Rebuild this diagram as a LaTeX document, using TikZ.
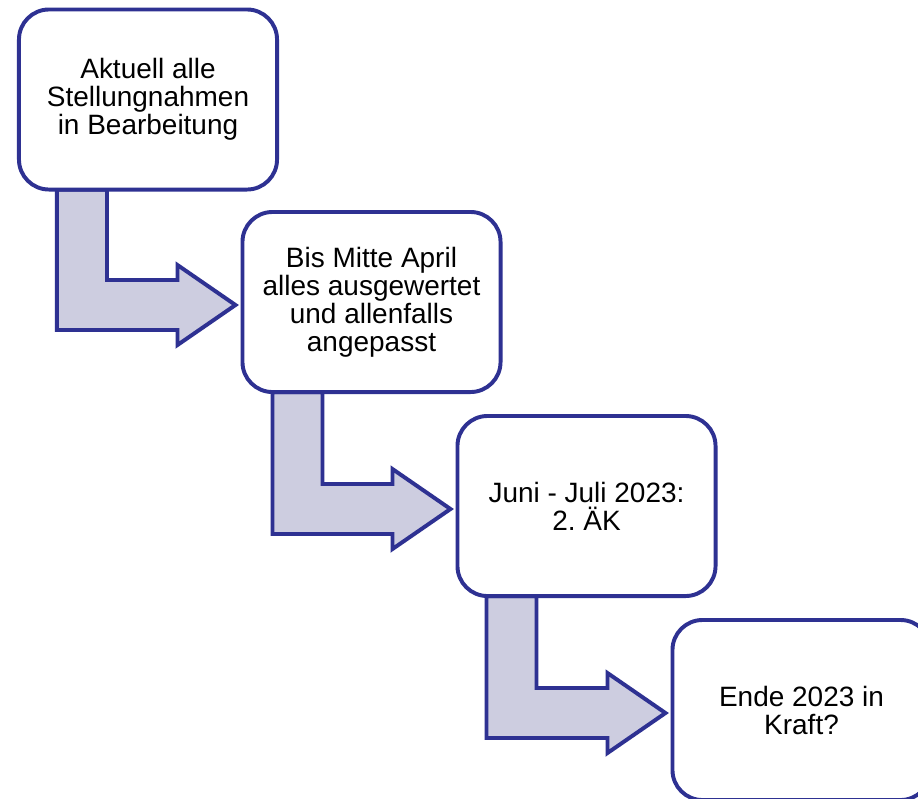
\documentclass[tikz,border=0pt]{standalone}
\usepackage{fontspec}
\setmainfont{Liberation Sans}
\usetikzlibrary{calc,backgrounds}
\definecolor{edgeblue}{RGB}{46,49,146}
\definecolor{arrowfill}{RGB}{205,205,224}
\frenchspacing
\tikzset{
  stepbox/.style={draw=edgeblue, line width=2.8pt, fill=white, rounded corners=0.75cm,
    minimum width=6.45cm, minimum height=4.5cm, inner sep=0pt, outer sep=0pt,
    align=center, font=\fontsize{19.9}{19.9}\selectfont, text=black},
  bentshape/.style={draw=edgeblue, line width=2.8pt, fill=arrowfill, line join=miter},
}
\newcommand{\drawbent}[3]{%
  \coordinate (s) at ($(#1.south west)+(#3,0)$);
  \coordinate (s2) at ($(s)+(50,0)$);
  \coordinate (t) at ($(#2.west)+(-7,3)$);
  \coordinate (bb) at ($(t)+(0,25)$);
  \coordinate (bt) at ($(t)+(0,-25)$);
  \draw[bentshape] (s) -- (s |- bb) -- ($(t)+(-58,25)$) -- ($(t)+(-58,40)$) -- (t)
    -- ($(t)+(-58,-40)$) -- ($(t)+(-58,-25)$) -- (s2 |- bt) -- (s2) -- cycle;
}
\begin{document}
\begin{tikzpicture}[x=0.025cm,y=-0.025cm]
  \useasboundingbox (0,0) rectangle (918,798);
  \node[stepbox] (b1) at (148,99.5) {Aktuell alle\\Stellungnahmen\\in Bearbeitung};
  \node[stepbox] (b2) at (371.5,302) {Bis Mitte April\\alles ausgewertet\\und allenfalls\\angepasst};
  \node[stepbox] (b3) at (586.5,506) {Juni - Juli 2023:\\2. ÄK};
  \node[stepbox] (b4) at (801.5,710) {Ende 2023 in\\Kraft?};
  \begin{scope}[on background layer]
    \fill[white] (0,0) rectangle (918,798);
    \drawbent{b1}{b2}{38}
    \drawbent{b2}{b3}{30}
    \drawbent{b3}{b4}{29}
  \end{scope}
\end{tikzpicture}
\end{document}
